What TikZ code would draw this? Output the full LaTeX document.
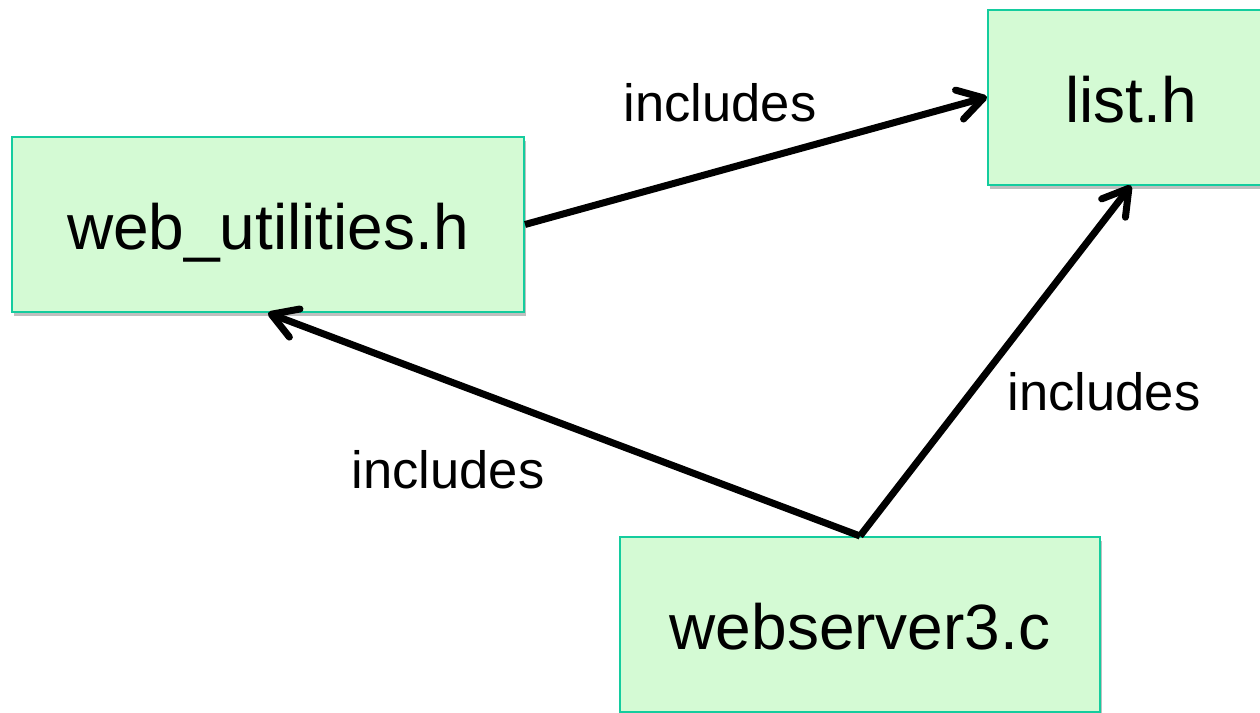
\documentclass[tikz,border=0pt]{standalone}
\usepackage{fontspec}
\setmainfont{Liberation Sans}
\usetikzlibrary{arrows.meta,shadows}
\definecolor{boxfill}{HTML}{D4FAD4}
\definecolor{boxline}{HTML}{14CC9E}
\begin{document}
\begin{tikzpicture}[x=1pt,y=-1pt,
  filebox/.style={draw=boxline,fill=boxfill,line width=2pt,minimum width=#1,minimum height=175pt,
    inner sep=0pt,text height=50pt,text depth=0pt,font=\fontsize{64}{64}\selectfont,
    drop shadow={shadow xshift=2pt,shadow yshift=-4pt,opacity=0.25,fill=black}},
  lbl/.style={font=\fontsize{52.5}{52.5}\selectfont,inner sep=0pt},
  inc/.style={line width=7pt,-{Straight Barb[length=25pt,width=30pt,line cap=round,line join=round]}}]
\useasboundingbox (0,0) rectangle (1260,712);
\clip (0,0) rectangle (1260,712);
\node[filebox=512pt] (wu) at (268,224.5) {web\_utilities.h};
\node[filebox=286pt] (lh) at (1131,97) {list.h};
\node[filebox=480pt] (ws) at (860,624.5) {webserver3.c};
\draw[inc] (wu.east) -- (lh.west);
\draw[inc] (ws.north) -- (lh.south);
\draw[inc] (ws.north) -- (wu.south);
\node[lbl] (l1) at (720,103) {includes};
\node[lbl] (l2) at (1104,392) {includes};
\node[lbl] (l3) at (448,470) {includes};
\end{tikzpicture}
\end{document}
